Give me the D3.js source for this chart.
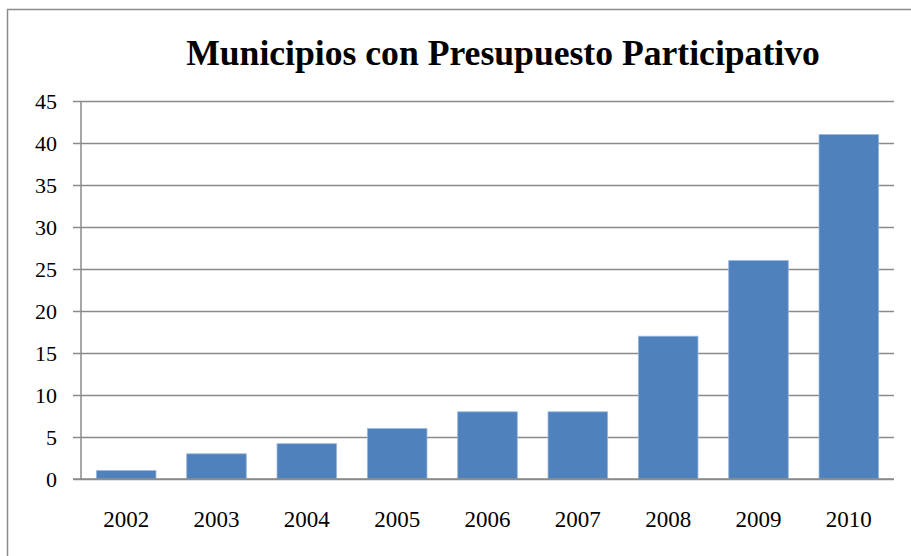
<!DOCTYPE html>
<html>
<head>
<meta charset="utf-8">
<script src="https://cdn.jsdelivr.net/npm/d3@7"></script>
<style>
  body { margin: 0; background: #fff; }
  svg { display: block; }
</style>
</head>
<body>
<div id="bar_chart"></div>
<script>
// data
var years = ["2002", "2003", "2004", "2005", "2006", "2007", "2008", "2009", "2010"];
var municipios = [1, 3, 4.2, 6, 8, 8, 17, 26, 41];
var yTicks = [0, 5, 10, 15, 20, 25, 30, 35, 40, 45];

var W = 911, H = 556;
var margin = {top: 101, right: 17, bottom: 77, left: 81},
    width = W - margin.left - margin.right,
    height = H - margin.top - margin.bottom;

var serif = "Liberation Serif";

var svg = d3.select("#bar_chart")
  .append("svg")
    .attr("width", W)
    .attr("height", H);

// outer frame (runs past the right and bottom edges)
svg.append("rect")
    .attr("x", 7.5).attr("y", 9.5)
    .attr("width", 940).attr("height", 600)
    .attr("fill", "none")
    .attr("stroke", "#8c8c8c")
    .attr("stroke-width", 1.5);

// title: pick the font size that gives the width it has in the picture
var title = svg.append("text")
    .attr("x", 503).attr("y", 65)
    .attr("text-anchor", "middle")
    .attr("font-family", serif)
    .attr("font-weight", "bold")
    .attr("font-size", 33)
    .text("Municipios con Presupuesto Participativo");
var tw = title.node().getComputedTextLength();
title.attr("font-size", Math.min(36, 33 * 634 / tw));

var g = svg.append("g")
    .attr("transform", "translate(" + margin.left + "," + margin.top + ")");

var x = d3.scaleBand()
    .domain(years)
    .range([0, width])
    .paddingInner(0.34)
    .paddingOuter(0.17);

var y = d3.scaleLinear()
    .domain([0, 45])
    .range([height, 0]);

// gridlines + left ticks
var yAxis = d3.axisLeft(y)
    .tickValues(yTicks)
    .tickSize(0)
    .tickFormat(d3.format("d"));

var yg = g.append("g")
    .attr("transform", "translate(-8,0)")
    .call(yAxis);
yg.select(".domain").remove();
yg.selectAll(".tick line")
    .attr("x1", 0)
    .attr("x2", width + 8)
    .attr("stroke", "#8a8a8a")
    .attr("stroke-width", 1.5);
yg.selectAll(".tick text")
    .attr("x", -16)
    .attr("font-family", serif)
    .attr("font-size", 22)
    .attr("fill", "#000");

// vertical axis line
g.append("line")
    .attr("x1", 0).attr("x2", 0)
    .attr("y1", 0).attr("y2", height)
    .attr("stroke", "#8a8a8a")
    .attr("stroke-width", 1.5);

g.selectAll(".bar")
  .data(years)
  .enter()
  .append("rect")
    .attr("class", "bar")
    .attr("x", function(d) { return x(d); })
    .attr("width", x.bandwidth())
    .attr("y", function(d, i) { return y(municipios[i]); })
    .attr("height", function(d, i) { return height - y(municipios[i]); })
    .attr("fill", "#4f81bd")
    .attr("stroke", "#9bb7dc")
    .attr("stroke-width", 0.8);

// baseline on top of bars
g.append("line")
    .attr("x1", -8).attr("x2", width)
    .attr("y1", height).attr("y2", height)
    .attr("stroke", "#8a8a8a")
    .attr("stroke-width", 1.5);

var xAxis = d3.axisBottom(x).tickSize(0).tickPadding(32);
var xg = g.append("g")
    .attr("transform", "translate(0," + height + ")")
    .call(xAxis);
xg.select(".domain").remove();
xg.selectAll("text")
    .attr("font-family", serif)
    .attr("font-size", 23)
    .attr("fill", "#000");
</script>
</body>
</html>
